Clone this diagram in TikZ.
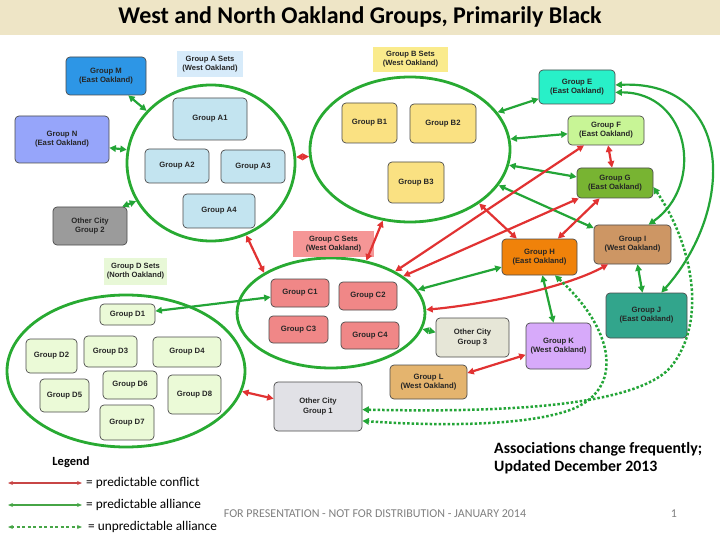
\documentclass[tikz,border=0pt]{standalone}
\usepackage{fontspec}
\setmainfont{Liberation Sans}
\newfontfamily\calib{Carlito}
\usetikzlibrary{shapes.geometric,arrows.meta}
\definecolor{titlebg}{RGB}{238,229,198}
\definecolor{ellgreen}{RGB}{40,170,50}
\definecolor{allgreen}{RGB}{35,165,55}
\definecolor{conred}{RGB}{225,50,50}
\definecolor{cM}{RGB}{45,150,230}
\definecolor{cN}{RGB}{150,165,250}
\definecolor{cOCtwo}{RGB}{155,155,155}
\definecolor{cA}{RGB}{195,228,240}
\definecolor{cAl}{RGB}{215,235,250}
\definecolor{cB}{RGB}{250,225,130}
\definecolor{cBl}{RGB}{250,235,140}
\definecolor{cC}{RGB}{240,135,135}
\definecolor{cCl}{RGB}{245,150,150}
\definecolor{cD}{RGB}{235,250,215}
\definecolor{cDl}{RGB}{232,248,215}
\definecolor{cE}{RGB}{40,240,200}
\definecolor{cF}{RGB}{200,245,150}
\definecolor{cG}{RGB}{120,180,50}
\definecolor{cH}{RGB}{240,130,10}
\definecolor{cI}{RGB}{205,150,100}
\definecolor{cJ}{RGB}{50,165,140}
\definecolor{cK}{RGB}{215,170,250}
\definecolor{cL}{RGB}{228,180,110}
\definecolor{cOCthree}{RGB}{230,230,215}
\definecolor{cOCone}{RGB}{225,225,230}
\definecolor{legred}{RGB}{200,70,70}
\definecolor{leggreen}{RGB}{70,165,70}
\begin{document}
\begin{tikzpicture}[x=1pt,y=-1pt,
  box/.style={draw=black!70, line width=0.7pt, rounded corners=4pt, inner sep=1pt, align=center,
    font=\bfseries\fontsize{7.7}{9.2}\selectfont, text=black!85},
  setell/.style={ellipse, draw=ellgreen, line width=2.8pt, inner sep=0pt},
  setlabel/.style={inner sep=1pt, align=center, font=\bfseries\fontsize{7.6}{9.2}\selectfont, text=black!85},
  conflict/.style={draw=conred, line width=2.2pt, {Triangle[length=6.5pt,width=6.5pt]}-{Triangle[length=6.5pt,width=6.5pt]}},
  alliance/.style={draw=allgreen, line width=2.2pt, {Triangle[length=6.5pt,width=6.5pt]}-{Triangle[length=6.5pt,width=6.5pt]}},
  unpred/.style={draw=allgreen, line width=2.5pt, dash pattern=on 2.5pt off 2pt, {Triangle[length=6.5pt,width=6.5pt]}-{Triangle[length=6.5pt,width=6.5pt]}},
  legline/.style={line width=1.1pt, {Stealth[length=5pt,width=4pt]}-{Stealth[length=5pt,width=4pt]}},
  legtext/.style={anchor=west, font=\calib\fontsize{13.3}{15}\selectfont, inner sep=0pt}
]
\useasboundingbox (0,0) rectangle (720,540);
\fill[white] (0,0) rectangle (720,540);
\fill[titlebg] (0,0) rectangle (720,35);
\node[font=\calib\bfseries\fontsize{24}{28}\selectfont] (title) at (360,17) {West and North Oakland Groups, Primarily Black};

% set ellipses
\node[setell, minimum width=168pt, minimum height=156pt] (A) at (211,163) {};
\node[setell, minimum width=200pt, minimum height=145pt] (B) at (410,149.5) {};
\node[setell, minimum width=188pt, minimum height=110pt] (C) at (331,313) {};
\node[setell, minimum width=238pt, minimum height=152pt] (D) at (126,371) {};

% set labels
\node[setlabel, fill=cAl, minimum width=66pt, minimum height=26pt] (Al) at (210,64) {Group A Sets\\(West Oakland)};
\node[setlabel, fill=cBl, minimum width=75pt, minimum height=25pt] (Bl) at (410.5,59.5) {Group B Sets\\(West Oakland)};
\node[setlabel, fill=cCl, minimum width=81pt, minimum height=26pt] (Cl) at (333.5,244) {Group C Sets\\(West Oakland)};
\node[setlabel, fill=cDl, minimum width=63pt, minimum height=27pt] (Dl) at (135.5,271.5) {Group D Sets\\(North Oakland)};

% boxes
\node[box, fill=cM, minimum width=80pt, minimum height=38pt] (M) at (106,76) {Group M\\(East Oakland)};
\node[box, fill=cN, minimum width=94pt, minimum height=47pt] (N) at (62,139.5) {Group N\\(East Oakland)};
\node[box, fill=cOCtwo, minimum width=74pt, minimum height=38pt] (OC2) at (90,226) {Other City\\Group 2};
\node[box, fill=cA, minimum width=74pt, minimum height=42pt] (A1) at (210,119) {Group A1};
\node[box, fill=cA, minimum width=64pt, minimum height=34pt] (A2) at (177,166) {Group A2};
\node[box, fill=cA, minimum width=64pt, minimum height=33pt] (A3) at (253,166.5) {Group A3};
\node[box, fill=cA, minimum width=72pt, minimum height=34pt] (A4) at (219,211) {Group A4};
\node[box, fill=cB, minimum width=55pt, minimum height=40pt] (B1) at (369.5,123) {Group B1};
\node[box, fill=cB, minimum width=66pt, minimum height=39pt] (B2) at (443,123.5) {Group B2};
\node[box, fill=cB, minimum width=56pt, minimum height=41pt] (B3) at (416,182.5) {Group B3};
\node[box, fill=cE, minimum width=76pt, minimum height=34pt] (E) at (577,87) {Group E\\(East Oakland)};
\node[box, fill=cF, minimum width=76pt, minimum height=29pt] (F) at (606,130.5) {Group F\\(East Oakland)};
\node[box, fill=cG, minimum width=76pt, minimum height=30pt] (G) at (615,183) {Group G\\(East Oakland)};
\node[box, fill=cI, minimum width=77pt, minimum height=39pt] (I) at (632.5,244.5) {Group I\\(West Oakland)};
\node[box, fill=cH, minimum width=75pt, minimum height=36pt] (H) at (539.5,257) {Group H\\(East Oakland)};
\node[box, fill=cJ, minimum width=81pt, minimum height=45pt] (J) at (646.5,315.5) {Group J\\(East Oakland)};
\node[box, fill=cK, minimum width=65pt, minimum height=46pt] (K) at (558.5,346) {Group K\\(West Oakland)};
\node[box, fill=cOCthree, minimum width=73pt, minimum height=39pt] (OC3) at (472.5,337.5) {Other City\\Group 3};
\node[box, fill=cL, minimum width=77pt, minimum height=34pt] (L) at (428.5,382) {Group L\\(West Oakland)};
\node[box, fill=cOCone, minimum width=88pt, minimum height=49pt] (OC1) at (318,406.5) {Other City\\Group 1};
\node[box, fill=cC, minimum width=58pt, minimum height=28pt] (C1) at (300,293) {Group C1};
\node[box, fill=cC, minimum width=58pt, minimum height=28pt] (C2) at (368,296) {Group C2};
\node[box, fill=cC, minimum width=59pt, minimum height=27pt] (C3) at (298.5,329.5) {Group C3};
\node[box, fill=cC, minimum width=58pt, minimum height=27pt] (C4) at (370,335.5) {Group C4};
\node[box, fill=cD, minimum width=55pt, minimum height=21pt] (D1) at (127.5,314.5) {Group D1};
\node[box, fill=cD, minimum width=51pt, minimum height=34pt] (D2) at (51.5,356) {Group D2};
\node[box, fill=cD, minimum width=53pt, minimum height=31pt] (D3) at (110.5,351.5) {Group D3};
\node[box, fill=cD, minimum width=68pt, minimum height=30pt] (D4) at (187,352) {Group D4};
\node[box, fill=cD, minimum width=49pt, minimum height=33pt] (D5) at (64.5,395.5) {Group D5};
\node[box, fill=cD, minimum width=54pt, minimum height=28pt] (D6) at (130,385) {Group D6};
\node[box, fill=cD, minimum width=54pt, minimum height=35pt] (D7) at (127,422.5) {Group D7};
\node[box, fill=cD, minimum width=53pt, minimum height=39pt] (D8) at (194.5,394.5) {Group D8};

% alliances
\draw[alliance] (M.-41) -- (A.141);
\draw[alliance] (N.-10) -- (A.171);
\draw[alliance] (OC2.31) -- (A.207);
\draw[alliance] (B.23) -- (E.197);
\draw[alliance] (B.6) -- (F.185);
\draw[alliance] (B.-9) -- (G.171);
\draw[alliance] (B.-22) -- (I.157);
\draw[alliance] (C.15) -- (H.195);
\draw[alliance] (E.-8) .. controls (690,92) and (705,185) .. (I.51);
\draw[alliance] (E.3) .. controls (735,80) and (735,210) .. (J.57);
\draw[alliance] (I.-76) -- (J.100);
\draw[alliance] (H.-81) -- (K.102);
\draw[alliance] (C.-10) -- (OC3.172);
\draw[alliance] (D1.7) -- (C1.188);

% conflicts
\draw[conflict] (A.4) -- (B.184);
\draw[conflict] (A.-64) -- (C.149);
\draw[conflict] (B.-111) -- (C.56);
\draw[conflict] (F.214) -- (C.33);
\draw[conflict] (G.203) -- (C.27);
\draw[conflict] (B.-38) -- (H.141);
\draw[conflict] (G.225) -- (H.45);
\draw[conflict] (F.-82) -- (G.101);
\draw[conflict] (C.2) .. controls (480,305) and (565,288) .. (I.219);
\draw[conflict] (K.195) -- (L.13);
\draw[conflict] (D.-10) -- (OC1.170);

% unpredictable
\draw[unpred] (G.-6) .. controls (690,240) and (710,320) .. (670,368) .. controls (630,410) and (480,412) .. (OC1.-4);
\draw[unpred] (H.-50) .. controls (615,330) and (625,390) .. (570,410) .. controls (520,428) and (420,425) .. (OC1.-18);

% legend
\node[font=\calib\bfseries\fontsize{12.5}{14}\selectfont] (leg) at (71,462) {Legend};
\coordinate (l1a) at (8,483); \coordinate (l1b) at (82,483);
\coordinate (l2a) at (8,505); \coordinate (l2b) at (82,505);
\coordinate (l3a) at (8,527); \coordinate (l3b) at (82,527);
\draw[legline, draw=legred] (l1a) -- (l1b);
\draw[legline, draw=leggreen] (l2a) -- (l2b);
\draw[legline, draw=leggreen, dash pattern=on 3pt off 2.5pt] (l3a) -- (l3b);
\node[legtext] (t1) at (86,483) {= predictable conflict};
\node[legtext] (t2) at (86,505) {= predictable alliance};
\node[legtext] (t3) at (88,527) {= unpredictable alliance};

\node[font=\calib\fontsize{12}{14}\selectfont, text=black!50] (foot) at (375,514) {FOR PRESENTATION - NOT FOR DISTRIBUTION - JANUARY 2014};
\node[font=\calib\fontsize{12}{14}\selectfont, text=black!50] (pg) at (674,514) {1};
\node[anchor=west, align=left, inner sep=0pt, font=\calib\bfseries\fontsize{15.8}{18}\selectfont] (note) at (494,458.5) {Associations change frequently;\\Updated December 2013};
\end{tikzpicture}
\end{document}
